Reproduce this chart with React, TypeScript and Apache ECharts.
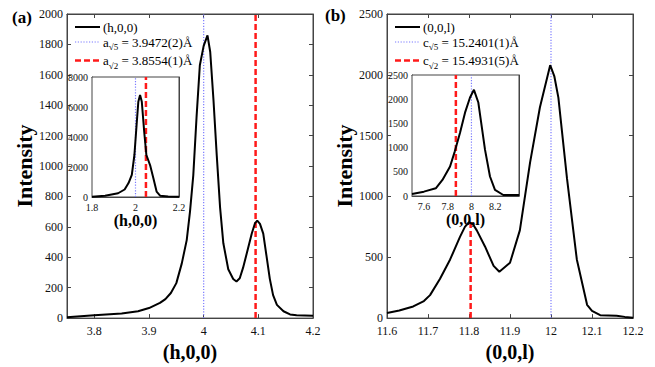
import React, { useEffect, useRef } from 'react';
import * as echarts from 'echarts';

const FONT = "'Liberation Serif', 'Times New Roman', Times, serif";
const AX = '#444';

// ---- Panel (a): main scan (h,0,0)
const hA = [3.75, 3.8, 3.85, 3.88, 3.9, 3.92, 3.93, 3.94, 3.95, 3.96, 3.969, 3.975, 3.981, 3.987, 3.993, 4.0, 4.007, 4.012, 4.018, 4.024, 4.03, 4.036, 4.045, 4.054, 4.06, 4.066, 4.072, 4.079, 4.088, 4.094, 4.098, 4.103, 4.109, 4.115, 4.121, 4.127, 4.134, 4.146, 4.158, 4.17, 4.2];
const intensityA = [5, 19, 30, 45, 66, 100, 125, 165, 230, 360, 513, 700, 939, 1323, 1663, 1790, 1860, 1750, 1431, 1067, 728, 492, 321, 257, 241, 262, 330, 428, 556, 625, 641, 620, 556, 407, 258, 151, 87, 45, 24, 19, 15];
const xTicksA = [3.8, 3.9, 4.0, 4.1, 4.2];
const refLinesA = { sqrt5: 4.0, sqrt2: 4.095 };

// ---- Panel (a): inset
const hInsetA = [1.8, 1.86, 1.92, 1.95, 1.968, 1.983, 1.995, 2.005, 2.013, 2.021, 2.029, 2.04, 2.05, 2.067, 2.082, 2.097, 2.113, 2.15, 2.2];
const intensityInsetA = [20, 80, 250, 500, 930, 1470, 2800, 4800, 6350, 6800, 6350, 4350, 2800, 2130, 1270, 360, 90, 30, 20];
const xTicksInsetA = [1.8, 2.0, 2.2];
const refLinesInsetA = { sqrt5: 2.0, sqrt2: 2.048 };

// ---- Panel (b): main scan (0,0,l)
const lB = [11.6, 11.63, 11.664, 11.69, 11.705, 11.729, 11.754, 11.778, 11.79, 11.8, 11.81, 11.819, 11.839, 11.86, 11.874, 11.9, 11.924, 11.949, 11.973, 11.998, 12.008, 12.018, 12.039, 12.063, 12.088, 12.1, 12.12, 12.16, 12.18, 12.2];
const intensityB = [42, 62, 96, 140, 189, 322, 482, 668, 750, 788, 770, 721, 589, 429, 381, 455, 721, 1280, 1733, 2079, 1990, 1813, 1148, 482, 109, 60, 24, 20, 10, 2];
const xTicksB = [11.6, 11.7, 11.8, 11.9, 12.0, 12.1, 12.2];
const refLinesB = { sqrt5: 12.0, sqrt2: 11.804, sqrt2Top: 790 };

// ---- Panel (b): inset
const lInsetB = [7.5, 7.6, 7.7, 7.756, 7.82, 7.86, 7.904, 7.946, 7.988, 8.021, 8.058, 8.086, 8.114, 8.156, 8.198, 8.268, 8.4];
const intensityInsetB = [42, 90, 160, 333, 610, 923, 1306, 1722, 2035, 2194, 1931, 1444, 958, 403, 125, 21, 20];
const xTicksInsetB = [7.6, 7.8, 8.0, 8.2];
const refLinesInsetB = { sqrt5: 8.0, sqrt2: 7.869 };

// legend texts
const legendA = ['(h,0,0)', '{m|a}{s|√5}{m| = 3.9472(2)Å}', '{m|a}{s|√2}{m| = 3.8554(1)Å}'];
const legendB = ['(0,0,l)', '{m|c}{s|√5}{m| = 15.2401(1)Å}', '{m|c}{s|√2}{m| = 15.4931(5)Å}'];

const zip = (xs: number[], ys: number[]) => xs.map((x, i) => [x, ys[i]]);
const fmt = (v: number) => String(Math.round(v * 1000) / 1000);

function xAxes(gridIndex: number, min: number, max: number, ticks: number[], fontSize: number, name: string, nameSize: number, nameGap: number, labelMargin: number) {
  return [
    {
      type: 'value', gridIndex, min, max, position: 'bottom',
      name, nameLocation: 'middle', nameGap,
      nameTextStyle: { fontFamily: FONT, fontSize: nameSize, fontWeight: 'bold', color: '#000' },
      axisLine: { show: true, onZero: false, lineStyle: { color: AX, width: 1 } },
      axisTick: { show: true, inside: true, length: 4, customValues: ticks, lineStyle: { color: AX, width: 1 } },
      axisLabel: { show: true, customValues: ticks, formatter: fmt, fontFamily: FONT, fontSize, color: '#111', margin: labelMargin },
      splitLine: { show: false },
    },
    {
      type: 'value', gridIndex, min, max, position: 'top',
      axisLine: { show: true, onZero: false, lineStyle: { color: AX, width: 1 } },
      axisTick: { show: true, inside: true, length: 4, customValues: ticks, lineStyle: { color: AX, width: 1 } },
      axisLabel: { show: false },
      splitLine: { show: false },
    },
  ];
}

function yAxes(gridIndex: number, max: number, interval: number, fontSize: number, name: string, nameSize: number, nameGap: number) {
  return [
    {
      type: 'value', gridIndex, min: 0, max, interval, position: 'left',
      name, nameLocation: 'middle', nameGap,
      nameTextStyle: { fontFamily: FONT, fontSize: nameSize, fontWeight: 'bold', color: '#000' },
      axisLine: { show: true, onZero: false, lineStyle: { color: AX, width: 1 } },
      axisTick: { show: true, inside: true, length: 4, lineStyle: { color: AX, width: 1 } },
      axisLabel: { show: true, formatter: fmt, fontFamily: FONT, fontSize, color: '#111', margin: 4 },
      splitLine: { show: false },
    },
    {
      type: 'value', gridIndex, min: 0, max, interval, position: 'right',
      axisLine: { show: true, onZero: false, lineStyle: { color: AX, width: 1 } },
      axisTick: { show: true, inside: true, length: 4, lineStyle: { color: AX, width: 1 } },
      axisLabel: { show: false },
      splitLine: { show: false },
    },
  ];
}

function curve(xi: number, yi: number, data: number[][]) {
  return {
    type: 'line', xAxisIndex: xi, yAxisIndex: yi, data, symbol: 'none', smooth: false,
    lineStyle: { color: '#000', width: 2 }, z: 3,
  };
}
function vline(xi: number, yi: number, x: number, y0: number, y1: number, kind: 'dot' | 'dash') {
  return {
    type: 'line', xAxisIndex: xi, yAxisIndex: yi, data: [[x, y0], [x, y1]], symbol: 'none',
    lineStyle: kind === 'dot'
      ? { color: '#7b7bff', width: 1.2, type: [1.2, 1.6] }
      : { color: '#ff1a1a', width: 2.5, type: [6, 3] },
    z: 2,
  };
}

function legendGraphics(x0: number, texts: string[]) {
  const rows = [27, 42, 60.5];
  const styles: any[] = [
    { stroke: '#000', lineWidth: 2 },
    { stroke: '#7b7bff', lineWidth: 1.2, lineDash: [1.2, 1.6] },
    { stroke: '#ff1a1a', lineWidth: 2.5, lineDash: [6, 3] },
  ];
  const rich = {
    m: { fontFamily: FONT, fontSize: 13, fill: '#000', lineHeight: 15 },
    s: { fontFamily: FONT, fontSize: 9, fill: '#000', padding: [10, 0, 0, 0] },
  };
  const out: any[] = [];
  rows.forEach((y, i) => {
    out.push({ type: 'line', shape: { x1: x0, y1: y, x2: x0 + 25, y2: y }, style: styles[i], z: 10 });
    out.push({
      type: 'text', x: x0 + 28, y, z: 10,
      style: {
        text: i === 0 ? `{m|${texts[i]}}` : texts[i], rich,
        fontFamily: FONT, fontSize: 13, fill: '#000', align: 'left', verticalAlign: 'middle',
      },
    });
  });
  return out;
}

function buildOption() {
  const gridA = { left: 67, top: 14, width: 246, height: 313 };
  const gridAi = { left: 92, top: 77, width: 87, height: 120 };
  const gridB = { left: 387, top: 14, width: 246, height: 313 };
  const gridBi = { left: 412, top: 75, width: 107, height: 121 };
  const box = { show: true, borderColor: AX, borderWidth: 1 };
  return {
    animation: false,
    backgroundColor: '#fff',
    grid: [
      { ...gridA, ...box, backgroundColor: 'transparent' },
      { ...gridAi, ...box, backgroundColor: '#fff', z: 1 },
      { ...gridB, ...box, backgroundColor: 'transparent' },
      { ...gridBi, ...box, backgroundColor: '#fff', z: 1 },
    ],
    xAxis: [
      ...xAxes(0, 3.75, 4.2, xTicksA, 12, '(h,0,0)', 20, 12, 7),
      ...xAxes(1, 1.8, 2.2, xTicksInsetA, 10, '(h,0,0)', 16, 13, 5),
      ...xAxes(2, 11.6, 12.2, xTicksB, 12, '(0,0,l)', 20, 12, 7),
      ...xAxes(3, 7.5, 8.4, xTicksInsetB, 10, '(0,0,l)', 16, 13, 5),
    ],
    yAxis: [
      ...yAxes(0, 2000, 200, 12, 'Intensity', 22, 30),
      ...yAxes(1, 8000, 2000, 10, '', 10, 10),
      ...yAxes(2, 2500, 500, 12, 'Intensity', 22, 31),
      ...yAxes(3, 2500, 500, 10, '', 10, 10),
    ],
    series: [
      vline(0, 0, refLinesA.sqrt5, 0, 2000, 'dot'),
      vline(0, 0, refLinesA.sqrt2, 0, 2000, 'dash'),
      curve(0, 0, zip(hA, intensityA)),
      vline(2, 2, refLinesInsetA.sqrt5, 0, 8000, 'dot'),
      vline(2, 2, refLinesInsetA.sqrt2, 0, 8000, 'dash'),
      curve(2, 2, zip(hInsetA, intensityInsetA)),
      vline(4, 4, refLinesB.sqrt5, 0, 2500, 'dot'),
      vline(4, 4, refLinesB.sqrt2, 0, refLinesB.sqrt2Top, 'dash'),
      curve(4, 4, zip(lB, intensityB)),
      vline(6, 6, refLinesInsetB.sqrt5, 0, 2500, 'dot'),
      vline(6, 6, refLinesInsetB.sqrt2, 0, 2500, 'dash'),
      curve(6, 6, zip(lInsetB, intensityInsetB)),
    ],
    graphic: [
      ...legendGraphics(75, legendA),
      ...legendGraphics(395, legendB),
      { type: 'text', x: 12, y: 17, style: { text: '(a)', fontFamily: FONT, fontSize: 17, fontWeight: 'bold', fill: '#000', verticalAlign: 'middle' } },
      { type: 'text', x: 325, y: 15, style: { text: '(b)', fontFamily: FONT, fontSize: 17, fontWeight: 'bold', fill: '#000', verticalAlign: 'middle' } },
    ],
  };
}

export default function App() {
  const ref = useRef<HTMLDivElement>(null);
  useEffect(() => {
    const chart = echarts.init(ref.current!, null, { renderer: 'svg' });
    chart.setOption(buildOption() as any);
    return () => chart.dispose();
  }, []);
  return <div ref={ref} style={{ position: 'fixed', left: 0, top: 0, width: 655, height: 367 }} />;
}
